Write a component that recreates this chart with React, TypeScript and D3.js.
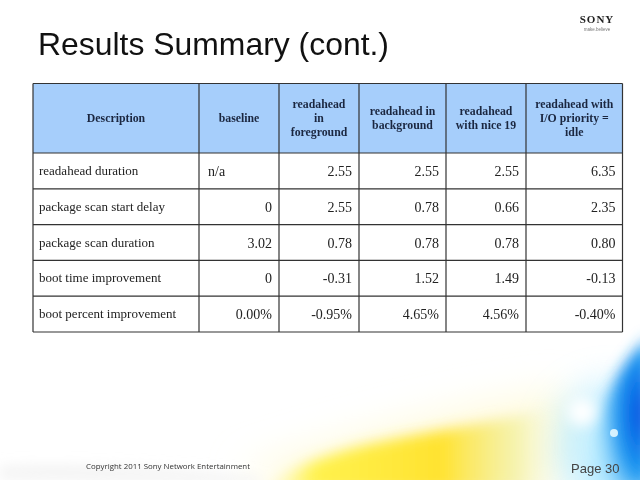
import React from "react";
import * as d3 from "d3";

// table content
const headers = [
  ["Description"],
  ["baseline"],
  ["readahead", "in", "foreground"],
  ["readahead in", "background"],
  ["readahead", "with nice 19"],
  ["readahead with", "I/O priority =", "idle"],
];
const descriptions = [
  "readahead duration",
  "package scan start delay",
  "package scan duration",
  "boot time improvement",
  "boot percent improvement",
];
const baseline = ["n/a", "0", "3.02", "0", "0.00%"];
const foreground = ["2.55", "2.55", "0.78", "-0.31", "-0.95%"];
const background = ["2.55", "0.78", "0.78", "1.52", "4.65%"];
const nice19 = ["2.55", "0.66", "0.78", "1.49", "4.56%"];
const ioIdle = ["6.35", "2.35", "0.80", "-0.13", "-0.40%"];
const valueColumns = [baseline, foreground, background, nice19, ioIdle];

// layout
const W = 640;
const H = 480;
const colEdges = [33, 199, 279, 359, 446, 526, 622.5];
const headTop = 83.5;
const headBottom = 153;
const tableBottom = 332;

const serif = "'Liberation Serif', 'Times New Roman', serif";
const sans = "'Liberation Sans', Arial, sans-serif";

const App = () => {
  const ref = React.useRef<SVGSVGElement>(null);

  React.useEffect(() => {
    const svg = d3.select(ref.current);
    svg.selectAll("*").remove();

    const defs = svg.append("defs");
    const blur = defs.append("filter").attr("id", "soft").attr("x", "-50%").attr("y", "-50%").attr("width", "200%").attr("height", "200%");
    blur.append("feGaussianBlur").attr("stdDeviation", 7);
    const blur2 = defs.append("filter").attr("id", "soft2").attr("x", "-50%").attr("y", "-50%").attr("width", "200%").attr("height", "200%");
    blur2.append("feGaussianBlur").attr("stdDeviation", 18);
    const yel = defs.append("linearGradient").attr("id", "yel").attr("x1", 0).attr("x2", 1);
    yel.append("stop").attr("offset", 0).attr("stop-color", "#fffbd0").attr("stop-opacity", 0.2);
    yel.append("stop").attr("offset", 0.18).attr("stop-color", "#fff24e");
    yel.append("stop").attr("offset", 0.6).attr("stop-color", "#ffe230");
    yel.append("stop").attr("offset", 0.85).attr("stop-color", "#f2f0a0").attr("stop-opacity", 0.7);
    yel.append("stop").attr("offset", 1).attr("stop-color", "#ffffff").attr("stop-opacity", 0);
    const blu = defs.append("radialGradient").attr("id", "blu").attr("cx", 0.85).attr("cy", 0.5).attr("r", 0.75);
    blu.append("stop").attr("offset", 0).attr("stop-color", "#0650e0");
    blu.append("stop").attr("offset", 0.5).attr("stop-color", "#1a96f0");
    blu.append("stop").attr("offset", 1).attr("stop-color", "#8fdcff").attr("stop-opacity", 0.3);

    svg.append("rect").attr("width", W).attr("height", H).attr("fill", "#ffffff");

    // decorative swoosh at the bottom
    svg.append("path")
      .attr("d", "M240,470 C330,440 450,405 560,390 L580,420 L560,490 L300,490 Z")
      .attr("fill", "#fffbe0").attr("filter", "url(#soft2)");
    svg.append("ellipse").attr("cx", 612).attr("cy", 445).attr("rx", 60).attr("ry", 62)
      .attr("fill", "#b8ecff").attr("opacity", 0.75).attr("filter", "url(#soft2)");
    const deco = svg.append("g").attr("filter", "url(#soft)");
    deco.append("path")
      .attr("d", "M258,492 C290,468 330,452 380,442 C440,430 500,420 552,410 L566,432 L560,492 Z")
      .attr("fill", "url(#yel)");
    deco.append("path")
      .attr("d", "M588,488 C590,450 596,420 606,400 C615,378 628,355 650,335 L650,492 Z")
      .attr("fill", "url(#blu)");
    deco.append("path")
      .attr("d", "M0,468 C80,465 180,470 260,478 L260,484 C160,480 80,478 0,478 Z")
      .attr("fill", "#e6e6e6").attr("opacity", 0.6);
    svg.append("circle").attr("cx", 582).attr("cy", 412).attr("r", 14).attr("fill", "#ffffff").attr("filter", "url(#soft)");
    svg.append("circle").attr("cx", 614).attr("cy", 433).attr("r", 4).attr("fill", "#e4f8ff").attr("opacity", 0.9);

    // title + logo
    svg.append("text").attr("x", 38).attr("y", 55).attr("font-family", sans).attr("font-size", 30.5)
      .attr("textLength", 351).attr("lengthAdjust", "spacingAndGlyphs")
      .attr("fill", "#111").text("Results Summary (cont.)");
    svg.append("text").attr("x", 597).attr("y", 23).attr("text-anchor", "middle").attr("font-family", serif)
      .attr("font-weight", "bold").attr("font-size", 11).attr("letter-spacing", 1).attr("fill", "#222").text("SONY");
    svg.append("text").attr("x", 597).attr("y", 31).attr("text-anchor", "middle").attr("font-family", sans)
      .attr("font-size", 4.5).attr("fill", "#777").text("make.believe");

    const yRow = d3.scaleBand<string>().domain(descriptions).range([headBottom, tableBottom]);

    const table = svg.append("g");
    table.append("rect").attr("x", colEdges[0]).attr("y", headTop)
      .attr("width", colEdges[6] - colEdges[0]).attr("height", headBottom - headTop).attr("fill", "#a6cefb");

    // header text
    headers.forEach((lines, i) => {
      const cx = (colEdges[i] + colEdges[i + 1]) / 2;
      const cy = (headTop + headBottom) / 2;
      const lh = 14;
      lines.forEach((l, j) => {
        table.append("text").attr("x", cx).attr("y", cy + (j - (lines.length - 1) / 2) * lh + 4)
          .attr("text-anchor", "middle").attr("font-family", serif).attr("font-weight", "bold")
          .attr("font-size", 11.8).attr("fill", "#1b2740").text(l);
      });
    });

    // body rows
    descriptions.forEach((d, r) => {
      const cy = (yRow(d) as number) + yRow.bandwidth() / 2;
      table.append("text").attr("x", colEdges[0] + 6).attr("y", cy + 4).attr("font-family", serif)
        .attr("font-size", 13).attr("fill", "#222").text(d);
      valueColumns.forEach((col, c) => {
        const v = col[r];
        const left = v === "n/a";
        table.append("text")
          .attr("x", left ? colEdges[c + 1] + 9 : colEdges[c + 2] - 7)
          .attr("y", cy + 5)
          .attr("text-anchor", left ? "start" : "end")
          .attr("font-family", serif).attr("font-size", 14).attr("fill", "#222").text(v);
      });
    });

    // grid
    const lines = table.append("g").attr("stroke", "#333").attr("stroke-width", 1.2).attr("fill", "none");
    [headTop, headBottom, ...descriptions.map(d => (yRow(d) as number) + yRow.bandwidth())].forEach(y => {
      lines.append("line").attr("x1", colEdges[0]).attr("x2", colEdges[6]).attr("y1", y).attr("y2", y);
    });
    colEdges.forEach(x => {
      lines.append("line").attr("x1", x).attr("x2", x).attr("y1", headTop).attr("y2", tableBottom);
    });

    // footer
    svg.append("text").attr("x", 86).attr("y", 469).attr("font-family", "'Open Sans', sans-serif")
      .attr("font-size", 7.5).attr("textLength", 164).attr("lengthAdjust", "spacingAndGlyphs")
      .attr("fill", "#333").text("Copyright 2011 Sony Network Entertainment");
    svg.append("text").attr("x", 571).attr("y", 473).attr("font-family", sans)
      .attr("font-size", 13).attr("fill", "#444").text("Page 30");
  }, []);

  return (
    <svg ref={ref} width={W} height={H}
      style={{ position: "absolute", left: 0, top: 0, display: "block" }} />
  );
};

export default App;
